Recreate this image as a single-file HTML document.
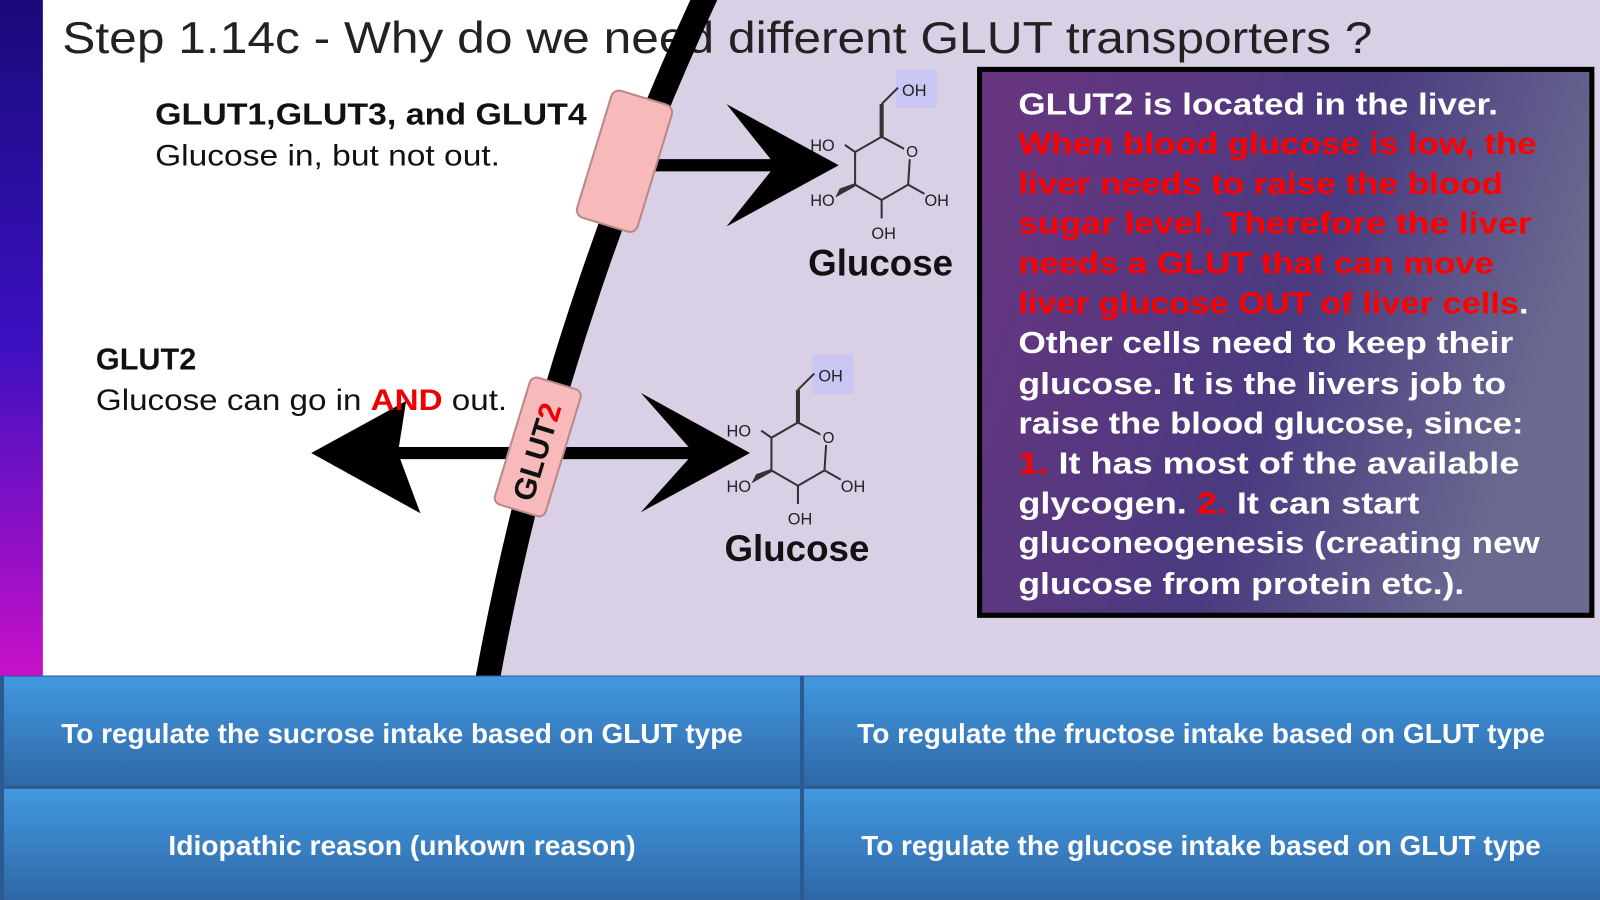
<!DOCTYPE html>
<html><head><meta charset="utf-8"><style>
html,body{margin:0;padding:0;width:1600px;height:900px;overflow:hidden;background:#fff}
svg{display:block}
</style></head><body>
<svg width="1600" height="900" viewBox="0 0 1568 882" preserveAspectRatio="none" xmlns="http://www.w3.org/2000/svg" font-family="Liberation Sans, sans-serif">
<defs>
<linearGradient id="lb" x1="0" y1="0" x2="0" y2="1"><stop offset="0" stop-color="#1a0a7a"/><stop offset="0.5" stop-color="#3a10c0"/><stop offset="1" stop-color="#c810c8"/></linearGradient>
<linearGradient id="bx" x1="0" y1="0" x2="1" y2="0.3"><stop offset="0" stop-color="#6a3580"/><stop offset="0.6" stop-color="#4a3a80"/><stop offset="1" stop-color="#6a6a90"/></linearGradient>
<linearGradient id="bt" x1="0" y1="0" x2="0" y2="1"><stop offset="0" stop-color="#4299e0"/><stop offset="1" stop-color="#2f67a6"/></linearGradient>
<g id="mol" stroke="#333" stroke-width="2" fill="none">
<rect x="14" y="-66" width="40" height="38" fill="#c9c6f4" stroke="none"/>
<polygon points="0,0 28,15 26,47 0,62 -26,47 -26,15"/>
<line x1="0" y1="0" x2="0" y2="-32" stroke-width="4"/><line x1="0" y1="-32" x2="16" y2="-48"/>
<line x1="-26" y1="15" x2="-36" y2="8"/>
<polygon points="-26,47 -42,56 -40,52" fill="#111" stroke-width="3"/>
<line x1="26" y1="47" x2="42" y2="56"/>
<line x1="0" y1="62" x2="0" y2="80"/>
<rect x="22" y="8" width="12" height="14" fill="#d9d0e6" stroke="none"/>
<g stroke="none" fill="#222" font-size="16"><text x="20" y="-40">OH</text><text x="-70" y="14">HO</text><text x="-70" y="68">HO</text><text x="42" y="68">OH</text><text x="-10" y="100">OH</text><text x="24" y="20" font-size="15">O</text></g>
</g>
</defs>
<rect width="1568" height="882" fill="#fff"/>
<path d="M692 0 L1568 0 L1568 662 L478 662 C530 380 620 150 692 0Z" fill="#d9d0e6"/>
<rect x="0" y="0" width="42" height="662" fill="url(#lb)"/>
<text x="61" y="52" font-size="44" fill="#222" textLength="1284" lengthAdjust="spacingAndGlyphs">Step 1.14c - Why do we need different GLUT transporters ?</text>
<path d="M692 -5 C620 150 530 380 478 665" stroke="#000" stroke-width="24" fill="none"/>
<line x1="640" y1="162" x2="765" y2="162" stroke="#000" stroke-width="12"/>
<polygon points="822,162 712,102 760,162 712,222" fill="#000"/>
<rect x="581" y="93" width="62" height="130" rx="8" fill="#f7b9b9" stroke="#b88" stroke-width="2" transform="rotate(17 612 158)"/>
<line x1="385" y1="444" x2="690" y2="444" stroke="#000" stroke-width="12"/>
<polygon points="735,444 628,385 680,444 628,502" fill="#000"/>
<polygon points="305,444 398,393 390,444 412,503" fill="#000"/>
<g transform="rotate(17 527 438)"><rect x="501" y="373" width="52" height="130" rx="7" fill="#f7b9b9" stroke="#b88" stroke-width="2"/>
<text transform="translate(538 492) rotate(-90)" font-size="30" font-weight="bold" fill="#111">GLUT<tspan fill="#e00">2</tspan></text></g>
<text x="152" y="122" font-size="30" font-weight="bold" fill="#111" textLength="423" lengthAdjust="spacingAndGlyphs">GLUT1,GLUT3, and GLUT4</text>
<text x="152" y="162" font-size="29" fill="#111" textLength="338" lengthAdjust="spacingAndGlyphs">Glucose in, but not out.</text>
<text x="94" y="362" font-size="30" font-weight="bold" fill="#111">GLUT2</text>
<text x="94" y="402" font-size="29" fill="#111" textLength="403" lengthAdjust="spacingAndGlyphs">Glucose can go in <tspan fill="#e00" font-weight="bold">AND</tspan> out.</text>
<use href="#mol" transform="translate(864 134)"/>
<use href="#mol" transform="translate(782 414)"/>
<text x="792" y="270" font-size="36" font-weight="bold" fill="#111">Glucose</text>
<text x="710" y="550" font-size="36" font-weight="bold" fill="#111">Glucose</text>
<rect x="960" y="68" width="600" height="535" fill="url(#bx)" stroke="#000" stroke-width="5"/>
<g font-size="30" font-weight="bold" fill="#fff">
<text x="998" y="112" textLength="470" lengthAdjust="spacingAndGlyphs">GLUT2 is located in the liver.</text>
<text x="998" y="151" fill="#ff0000" textLength="508" lengthAdjust="spacingAndGlyphs">When blood glucose is low, the</text>
<text x="998" y="190" fill="#ff0000" textLength="475" lengthAdjust="spacingAndGlyphs">liver needs to raise the blood</text>
<text x="998" y="229" fill="#ff0000" textLength="503" lengthAdjust="spacingAndGlyphs">sugar level. Therefore the liver</text>
<text x="998" y="268" fill="#ff0000" textLength="466" lengthAdjust="spacingAndGlyphs">needs a GLUT that can move</text>
<text x="998" y="307" textLength="500" lengthAdjust="spacingAndGlyphs"><tspan fill="#ff0000">liver glucose OUT of liver cells</tspan>.</text>
<text x="998" y="346" textLength="485" lengthAdjust="spacingAndGlyphs">Other cells need to keep their</text>
<text x="998" y="386" textLength="478" lengthAdjust="spacingAndGlyphs">glucose. It is the livers job to</text>
<text x="998" y="425" textLength="495" lengthAdjust="spacingAndGlyphs">raise the blood glucose, since:</text>
<text x="998" y="464" textLength="491" lengthAdjust="spacingAndGlyphs"><tspan fill="#ff0000">1.</tspan> It has most of the available</text>
<text x="998" y="503" textLength="393" lengthAdjust="spacingAndGlyphs">glycogen. <tspan fill="#ff0000">2.</tspan> It can start</text>
<text x="998" y="542" textLength="511" lengthAdjust="spacingAndGlyphs">gluconeogenesis (creating new</text>
<text x="998" y="582" textLength="437" lengthAdjust="spacingAndGlyphs">glucose from protein etc.).</text>
</g>
<rect x="0" y="662" width="1568" height="220" fill="#2a5a90"/>
<rect x="4" y="663" width="780" height="107" fill="url(#bt)"/>
<rect x="788" y="663" width="780" height="107" fill="url(#bt)"/>
<rect x="4" y="773" width="780" height="109" fill="url(#bt)"/>
<rect x="788" y="773" width="780" height="109" fill="url(#bt)"/>
<g font-size="27" font-weight="bold" fill="#fff" text-anchor="middle">
<text x="394" y="728" textLength="668" lengthAdjust="spacingAndGlyphs">To regulate the sucrose intake based on GLUT type</text>
<text x="1177" y="728" textLength="674" lengthAdjust="spacingAndGlyphs">To regulate the fructose intake based on GLUT type</text>
<text x="394" y="838" textLength="458" lengthAdjust="spacingAndGlyphs">Idiopathic reason (unkown reason)</text>
<text x="1177" y="838" textLength="666" lengthAdjust="spacingAndGlyphs">To regulate the glucose intake based on GLUT type</text>
</g>
</svg>
</body></html>
